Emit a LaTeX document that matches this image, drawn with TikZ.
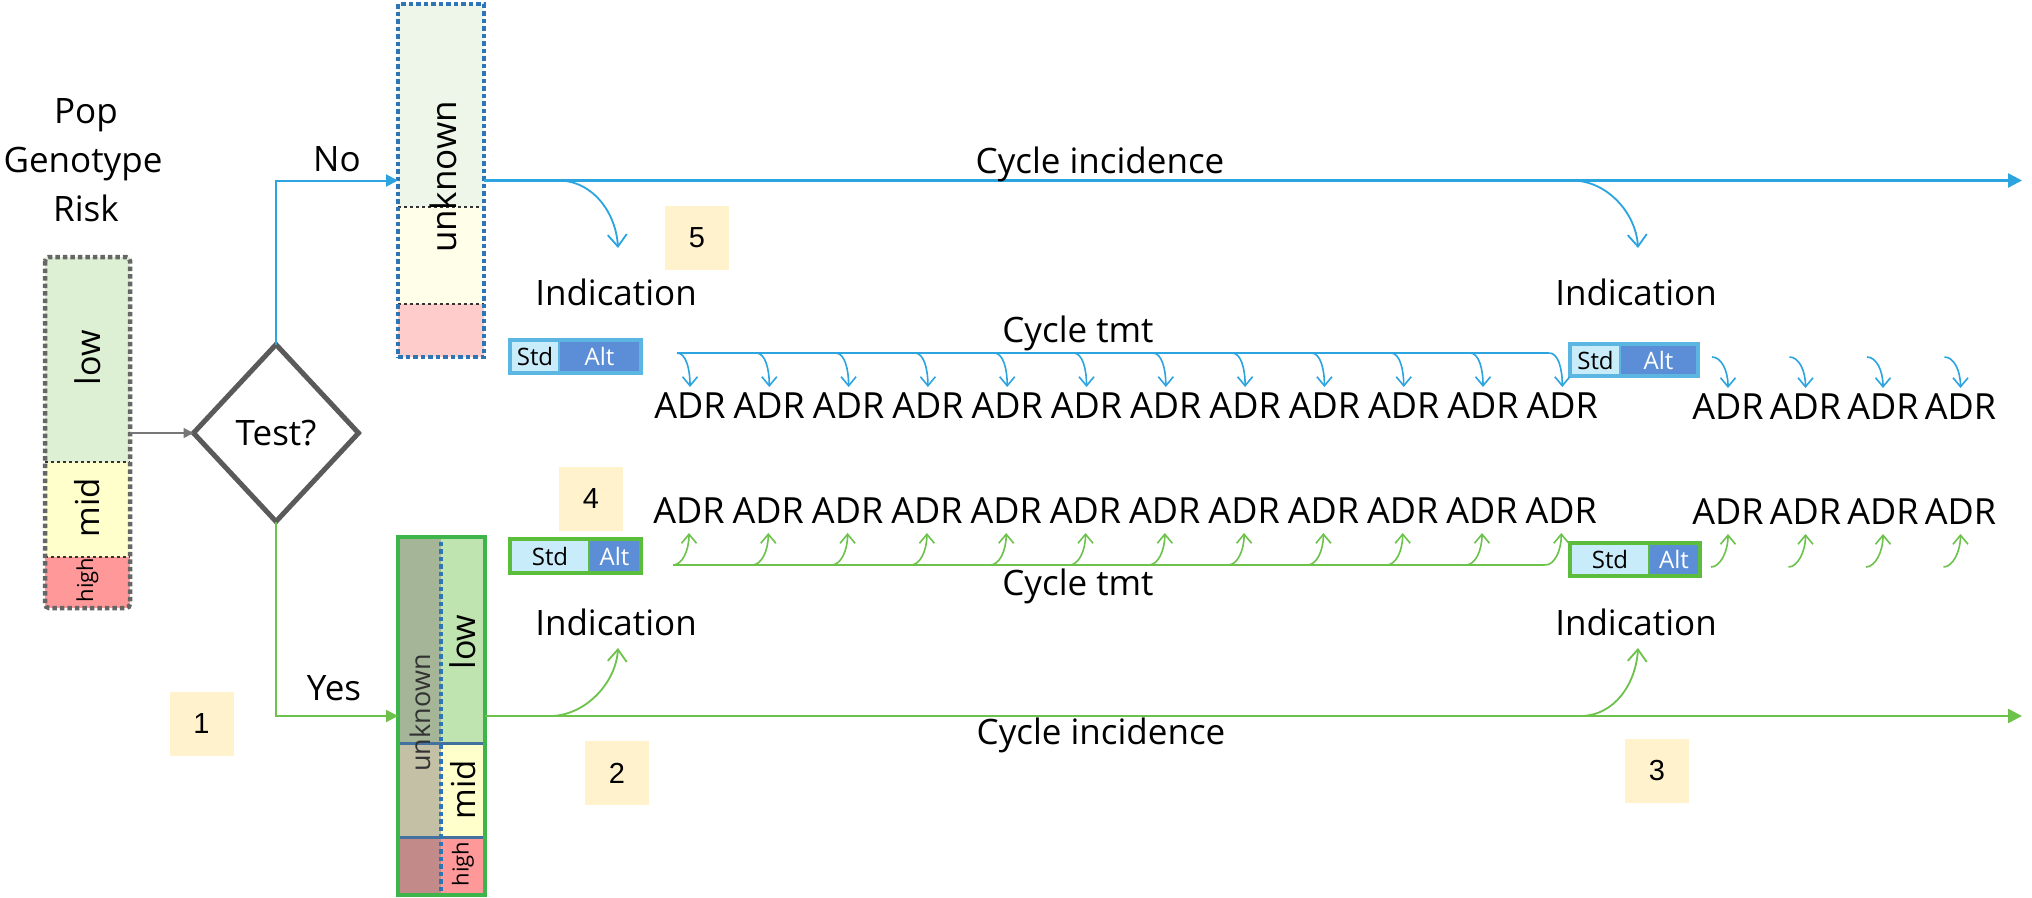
\documentclass[tikz,border=0pt]{standalone}
\usepackage{fontspec}
\setmainfont{Open Sans}
\newfontfamily\arialf{Liberation Sans}
\usetikzlibrary{arrows.meta,shapes.geometric,calc}
\newcommand\myfs[1]{\fontsize{#1pt}{#1pt}\selectfont}
\definecolor{lowG}{HTML}{DDF0D4}
\definecolor{midY}{HTML}{FFFFCC}
\definecolor{highR}{HTML}{FF9999}
\definecolor{tAc}{HTML}{EEF6EA}
\definecolor{tBc}{HTML}{FFFFE9}
\definecolor{tCc}{HTML}{FFCCCC}
\definecolor{brLow}{HTML}{C0E4B0}
\definecolor{blLow}{HTML}{A4B598}
\definecolor{blMid}{HTML}{C3C0A6}
\definecolor{blHigh}{HTML}{C28B8A}
\definecolor{numY}{HTML}{FFF2CC}
\definecolor{lineBlue}{HTML}{2BA4E0}
\definecolor{lineGreen}{HTML}{6CC24A}
\definecolor{saBlue}{HTML}{5BB7E1}
\definecolor{stdFill}{HTML}{C9ECFB}
\definecolor{altFill}{HTML}{5B8ED6}
\definecolor{saGreen}{HTML}{5CBD3C}
\definecolor{botGreen}{HTML}{3DB54A}
\definecolor{divBlue}{HTML}{44729E}
\definecolor{dotBlue}{HTML}{2E75B6}
\definecolor{grayDot}{HTML}{666666}
\definecolor{diaGray}{HTML}{5A5A5A}
\definecolor{arrGray}{HTML}{777777}
\tikzset{
  seg/.style={rectangle, inner sep=0pt, outer sep=0pt, draw=none},
  segbox/.style n args={3}{seg, minimum width=#1, minimum height=#2, fill=#3},
  lbl/.style={font=\myfs{35}, inner sep=0pt, anchor=base, text=black},
  rlbl/.style={font=\myfs{#1}, inner sep=0pt, rotate=90, text=black},
  numbox/.style={seg, fill=numY, minimum width=64pt, minimum height=64pt, font=\arialf\myfs{29}},
  adrU/.style={font=\myfs{36}, inner xsep=0pt, inner ysep=5pt, text height=26pt, text depth=0pt, anchor=base, outer sep=0pt},
  adrD/.style={font=\myfs{36}, inner xsep=0pt, inner ysep=10pt, text height=26pt, text depth=0pt, anchor=base, outer sep=0pt},
  stdtxt/.style={font=\myfs{24}, text=black},
  alttxt/.style={font=\myfs{24}, text=white},
  dotline/.style={line width=4.5pt, dash pattern=on 4.5pt off 3pt},
  smallB/.style={draw=lineBlue, line width=1.6pt, -{Straight Barb[length=9pt,width=15pt]}},
  smallG/.style={draw=lineGreen, line width=1.6pt, -{Straight Barb[length=9pt,width=15pt]}},
  bigB/.style={draw=lineBlue, line width=1.8pt, -{Straight Barb[length=12pt,width=19pt]}},
  bigG/.style={draw=lineGreen, line width=1.8pt, -{Straight Barb[length=12pt,width=19pt]}},
  incB/.style={draw=lineBlue, line width=2.4pt, -{Triangle[length=14pt,width=14pt]}},
  incG/.style={draw=lineGreen, line width=2.4pt, -{Triangle[length=14pt,width=14pt]}},
}
\begin{document}
\begin{tikzpicture}[x=1pt,y=-1pt]
\useasboundingbox (0,0) rectangle (2032,897);
\fill[white] (0,0) rectangle (2032,897);

% ---------- heading ----------
\node[lbl] (hpop) at (86,123) {Pop};
\node[lbl] (hgen) at (83,172) {Genotype};
\node[lbl] (hrisk) at (86,221) {Risk};

% ---------- left population stack ----------
\node[segbox={85pt}{205pt}{lowG}] (lowL) at (87.5,359.5) {};
\node[segbox={85pt}{95pt}{midY}] (midL) at (87.5,509.5) {};
\node[segbox={85pt}{51pt}{highR}] (highL) at (87.5,582.5) {};
\draw[black!80, line width=1.2pt, dashed] (lowL.south west) -- (lowL.south east);
\draw[black!80, line width=1.2pt, dashed] (midL.south west) -- (midL.south east);
\draw[grayDot, dotline, rounded corners=4pt] (lowL.north west) rectangle (highL.south east);
\node[rlbl=34] (tlowL) at (87.5,358) {low};
\node[rlbl=33] (tmidL) at (87.5,508) {mid};
\node[rlbl=22] (thighL) at (87.5,580) {high};

% ---------- decision ----------
\node[diamond, draw=diaGray, line width=5pt, minimum width=165pt, minimum height=177pt, inner sep=0pt, outer sep=0pt, font=\myfs{35}] (test) at (276,433) {Test?};
\draw[arrGray, line width=1.5pt, -{Triangle[length=10pt,width=10pt]}] (lowL.east |- test.west) -- (test.west);

% ---------- top (untested) box ----------
\node[segbox={86pt}{203pt}{tAc}] (tA) at (441,105.5) {};
\node[segbox={86pt}{97pt}{tBc}] (tB) at (441,255.5) {};
\node[segbox={86pt}{53pt}{tCc}] (tC) at (441,330.5) {};
\draw[black!80, line width=1.2pt, dashed] (tA.south west) -- (tA.south east);
\draw[black!80, line width=1.2pt, dashed] (tB.south west) -- (tB.south east);
\node[seg, draw=dotBlue, dotline, minimum width=86pt, minimum height=353pt] (topbox) at (441,180.5) {};
\node[rlbl=35] (tunk) at (443,177) {unknown};

% ---------- bottom (tested) box ----------
\node[segbox={43pt}{206pt}{blLow}] (bl1) at (419.5,640) {};
\node[segbox={43pt}{94pt}{blMid}] (bl2) at (419.5,790) {};
\node[segbox={43pt}{58pt}{blHigh}] (bl3) at (419.5,866) {};
\node[segbox={44pt}{206pt}{brLow}] (br1) at (463,640) {};
\node[segbox={44pt}{94pt}{midY}] (br2) at (463,790) {};
\node[segbox={44pt}{58pt}{highR}] (br3) at (463,866) {};
\draw[divBlue, line width=3pt] (bl1.south west) -- (br1.south east);
\draw[divBlue, line width=3pt] (bl2.south west) -- (br2.south east);
\draw[dotBlue, dotline] (bl1.north west) rectangle (bl3.south east);
\node[seg, draw=botGreen, line width=4pt, minimum width=87pt, minimum height=358pt] (botbox) at (441.5,716) {};
\node[rlbl=27, text=black!80] (bunk) at (420,713) {unknown};
\node[rlbl=34] (blow) at (463,642) {low};
\node[rlbl=33] (bmid) at (463,790) {mid};
\node[rlbl=22] (bhigh) at (463,864) {high};

% ---------- branches ----------
\draw[draw=lineBlue, line width=2pt, -{Triangle[length=12pt,width=12pt]}] (test.north) |- (topbox.west);
\draw[draw=lineGreen, line width=2pt, -{Triangle[length=12pt,width=12pt]}] (test.south) |- (botbox.west);
\node[lbl] (no) at (337,171) {No};
\node[lbl] (yes) at (334,700) {Yes};

% ---------- cycle incidence ----------
\coordinate (endU) at (2022,180.5);
\coordinate (endD) at (2022,716);
\draw[incB] (topbox.east) -- (endU);
\draw[incG] (botbox.east) -- (endD);
\node[lbl] (ciU) at (1100,173) {Cycle incidence};
\node[lbl] (ciD) at (1101,744) {Cycle incidence};

% indication arrows
\coordinate (iU1s) at (558,180.5); \coordinate (iU1e) at (618,248);
\coordinate (iU2s) at (1572,180.5); \coordinate (iU2e) at (1638,248);
\coordinate (iD1s) at (550,716); \coordinate (iD1e) at (618,648);
\coordinate (iD2s) at (1580,716); \coordinate (iD2e) at (1638,648);
\draw[bigB] (iU1s) .. controls ($(iU1s)+(35,0)$) and ($(iU1e)+(-2,-35)$) .. (iU1e);
\draw[bigB] (iU2s) .. controls ($(iU2s)+(35,0)$) and ($(iU2e)+(-2,-35)$) .. (iU2e);
\draw[bigG] (iD1s) .. controls ($(iD1s)+(35,0)$) and ($(iD1e)+(-2,35)$) .. (iD1e);
\draw[bigG] (iD2s) .. controls ($(iD2s)+(35,0)$) and ($(iD2e)+(-2,35)$) .. (iD2e);
\node[lbl] (indU1) at (616,305) {Indication};
\node[lbl] (indU2) at (1636,305) {Indication};
\node[lbl] (indD1) at (616,635) {Indication};
\node[lbl] (indD2) at (1636,635) {Indication};

% ---------- number boxes ----------
\node[numbox] (n1) at (201.5,724) {1};
\node[numbox] (n2) at (617,773) {2};
\node[numbox] (n3) at (1657,771) {3};
\node[numbox] (n4) at (591,498.5) {4};
\node[numbox] (n5) at (697,237.5) {5};

% ---------- Std/Alt boxes ----------
\node[seg, fill=saBlue, minimum width=135pt, minimum height=37pt] (saU1) at (575.5,356.5) {};
\node[seg, fill=stdFill, minimum width=46pt, minimum height=29pt, stdtxt] (saU1s) at (535,356.5) {Std};
\node[seg, fill=altFill, minimum width=79pt, minimum height=29pt, alttxt] (saU1a) at (599.5,356.5) {Alt};
\node[seg, fill=saBlue, minimum width=132pt, minimum height=36pt] (saU2) at (1634,360) {};
\node[seg, fill=stdFill, minimum width=47pt, minimum height=28pt, stdtxt] (saU2s) at (1595.5,360) {Std};
\node[seg, fill=altFill, minimum width=75pt, minimum height=28pt, alttxt] (saU2a) at (1658.5,360) {Alt};
\node[seg, fill=saGreen, minimum width=135pt, minimum height=38pt] (saD1) at (575.5,556) {};
\node[seg, fill=stdFill, minimum width=76pt, minimum height=30pt, stdtxt] (saD1s) at (550,556) {Std};
\node[seg, fill=altFill, minimum width=49pt, minimum height=30pt, alttxt] (saD1a) at (614.5,556) {Alt};
\node[seg, fill=saGreen, minimum width=134pt, minimum height=37pt] (saD2) at (1635,559.5) {};
\node[seg, fill=stdFill, minimum width=76pt, minimum height=29pt, stdtxt] (saD2s) at (1610,559.5) {Std};
\node[seg, fill=altFill, minimum width=48pt, minimum height=29pt, alttxt] (saD2a) at (1674,559.5) {Alt};

% ---------- cycle treatment ----------
\node[lbl] (ctU) at (1078,342) {Cycle tmt};
\node[lbl] (ctD) at (1078,595) {Cycle tmt};
\foreach \k in {0,...,11} {
  \pgfmathsetmacro\cx{690+79.3*\k}
  \node[adrU] (au\k) at (\cx,418) {ADR};
  \node[adrD] (ad\k) at (\cx-1,523) {ADR};
  \coordinate (bu\k) at (\cx-13,353);
  \coordinate (gd\k) at (\cx-17,565);
}
\draw[draw=lineBlue, line width=2pt] (bu0) -- (bu11);
\draw[draw=lineGreen, line width=2pt] (gd0) -- (gd11);
\foreach \k in {0,...,11} {
  \draw[smallB] (bu\k) .. controls ($(bu\k)+(9,0)$) and ($(au\k.north)+(0,-18)$) .. (au\k.north);
  \draw[smallG] (gd\k) .. controls ($(gd\k)+(9,0)$) and ($(ad\k.south)+(0,18)$) .. (ad\k.south);
}
\foreach \j in {0,...,3} {
  \pgfmathsetmacro\cx{1728+77.5*\j}
  \node[adrU] (ru\j) at (\cx,419) {ADR};
  \node[adrD] (rd\j) at (\cx,524) {ADR};
  \coordinate (rbu\j) at (\cx-16,357);
  \coordinate (rgd\j) at (\cx-17,567);
  \draw[smallB] (rbu\j) .. controls ($(rbu\j)+(9,0)$) and ($(ru\j.north)+(0,-18)$) .. (ru\j.north);
  \draw[smallG] (rgd\j) .. controls ($(rgd\j)+(9,0)$) and ($(rd\j.south)+(0,18)$) .. (rd\j.south);
}
\end{tikzpicture}
\end{document}
